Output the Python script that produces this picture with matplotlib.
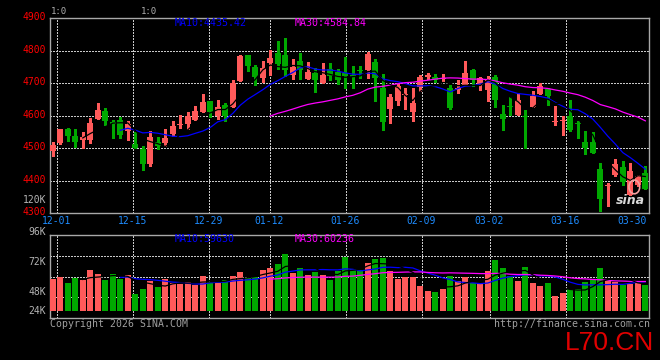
import numpy as np
import pandas as pd
import matplotlib
matplotlib.use('Agg')
import matplotlib.pyplot as plt
from matplotlib.patches import Rectangle, Ellipse
from matplotlib.transforms import blended_transform_factory

# ---------------- data ----------------
opens = [4492, 4516, 4558, 4539, 4526, 4525, 4589, 4613, 4580, 4588,
         4553, 4513, 4497, 4452, 4518, 4517, 4544, 4571, 4574, 4588,
         4612, 4645, 4600, 4633, 4628, 4707, 4786, 4749, 4715, 4761,
         4792, 4786, 4724, 4769, 4712, 4731, 4701, 4743, 4733, 4730,
         4726, 4740, 4740, 4765, 4684, 4620, 4644, 4662, 4611, 4688,
         4720, 4720, 4713, 4685, 4680, 4693, 4739, 4693, 4678, 4718,
         4604, 4628, 4601, 4600, 4627, 4667, 4682, 4580, 4585, 4600,
         4577, 4518, 4520, 4435, 4383, 4419, 4443, 4355, 4386, 4423]
highs = [4518, 4560, 4563, 4558, 4549, 4592, 4638, 4622, 4586, 4595,
         4584, 4550, 4508, 4553, 4534, 4558, 4585, 4602, 4612, 4629,
         4666, 4645, 4649, 4639, 4709, 4786, 4786, 4755, 4769, 4802,
         4830, 4838, 4773, 4792, 4766, 4746, 4762, 4761, 4743, 4780,
         4753, 4753, 4797, 4775, 4728, 4665, 4697, 4685, 4685, 4724,
         4732, 4727, 4727, 4693, 4708, 4767, 4742, 4719, 4721, 4724,
         4632, 4657, 4670, 4617, 4675, 4700, 4685, 4631, 4598, 4649,
         4583, 4554, 4551, 4455, 4394, 4467, 4462, 4455, 4418, 4445]
lows = [4477, 4513, 4523, 4505, 4500, 4516, 4589, 4571, 4531, 4532,
        4526, 4500, 4432, 4446, 4498, 4508, 4537, 4562, 4559, 4588,
        4612, 4595, 4590, 4584, 4626, 4707, 4736, 4695, 4702, 4724,
        4743, 4722, 4712, 4712, 4712, 4674, 4701, 4710, 4696, 4684,
        4684, 4715, 4715, 4645, 4557, 4577, 4632, 4620, 4584, 4676,
        4713, 4703, 4705, 4619, 4669, 4693, 4690, 4678, 4645, 4627,
        4555, 4601, 4601, 4500, 4627, 4667, 4632, 4570, 4540, 4552,
        4531, 4481, 4485, 4307, 4321, 4416, 4386, 4355, 4384, 4374]
closes = [4510, 4558, 4537, 4519, 4534, 4577, 4616, 4584, 4574, 4540,
          4574, 4500, 4452, 4535, 4508, 4531, 4568, 4575, 4600, 4614,
          4643, 4611, 4626, 4600, 4701, 4783, 4753, 4719, 4747, 4776,
          4759, 4741, 4748, 4741, 4735, 4710, 4725, 4722, 4710, 4722,
          4720, 4736, 4789, 4717, 4579, 4656, 4692, 4666, 4639, 4720,
          4724, 4711, 4716, 4624, 4685, 4731, 4708, 4715, 4708, 4647,
          4589, 4626, 4647, 4597, 4659, 4692, 4659, 4583, 4588, 4557,
          4573, 4502, 4485, 4343, 4387, 4450, 4396, 4429, 4416, 4374]
volumes = [60800, 62400, 57600, 61600, 59800, 68000, 64800, 60000, 64800, 60800,
           64000, 48900, 52900, 59000, 54500, 60800, 57600, 56600, 58400, 56000,
           63400, 58400, 57400, 60000, 63400, 66400, 61600, 62400, 68000, 69600,
           73000, 80700, 65800, 69600, 64000, 66400, 64000, 60000, 67400, 78300,
           68800, 68000, 73800, 76700, 77500, 67200, 60800, 62400, 62400, 55300,
           51300, 50500, 52900, 63200, 59000, 62400, 57600, 56800, 67200, 75900,
           69600, 63200, 59200, 70300, 57900, 55300, 57600, 47300, 49700, 52600,
           52600, 58400, 60600, 69600, 60000, 58400, 55800, 56800, 57600, 56000]

tick_idx = [1, 11, 21, 29, 39, 49, 58, 68, 78]
tick_labels = ['12-01', '12-15', '12-29', '01-12', '01-26', '02-09', '03-02', '03-16', '03-30']
price_ticks = [4900, 4800, 4700, 4600, 4500, 4400, 4300]
vol_ticks = [96000, 72000, 48000, 24000]
vol_tick_labels = ['96K', '72K', '48K', '24K']
price_ma10_text = 'MA10:4435.42'
price_ma30_text = 'MA30:4584.84'
vol_ma10_text = 'MA10:59630'
vol_ma30_text = 'MA30:60236'

# ---------------- style ----------------
W, H = 660, 360
BG = '#000000'
UP = '#FF5A5A'
DOWN = '#00A800'
GRID = '#C8C8C8'
BORDER = '#A8A8A8'
BLUE = '#0000FF'
MAG = '#FF00FF'
DATE_C = '#1E8CFF'
GREY = '#B4B4B4'
MONO = 'DejaVu Sans Mono'


def fx(x):
    return x / W


def fy(y):
    return 1 - y / H


fig = plt.figure(figsize=(6.6, 3.6), dpi=100, facecolor=BG)

n = len(closes)
x = np.arange(n)
X_LO, X_HI = -0.37, 79.53

ax = fig.add_axes([fx(50), fy(213.3), (649.3 - 50) / W, (213.3 - 18) / H])
axv = fig.add_axes([fx(50), fy(318.3), (649.3 - 50) / W, (318.3 - 234.7) / H])

for a in (ax, axv):
    a.set_facecolor(BG)
    a.set_xlim(X_LO, X_HI)
    a.set_xticks([])
    a.set_yticks([])
    for s in a.spines.values():
        s.set_color(BORDER)
        s.set_linewidth(1.0)

ax.set_ylim(4300, 4900)
V_LO, V_HI = 29600, 96000
axv.set_ylim(V_LO, V_HI)

# gridline positions (Sina places them on a slightly different step than candles)
grid_pos = [t * n / (n - 1) - 0.41 for t in tick_idx]
dotted = dict(color=GRID, linewidth=0.75, linestyle=(0, (1, 1.6)), antialiased=False, zorder=1)
for g in grid_pos[:-1]:
    ax.axvline(g, **dotted)
    axv.axvline(g, **dotted)
for p in price_ticks[1:-1]:
    ax.axhline(p, **dotted)
for f in (0.25, 0.5, 0.75):
    axv.axhline(V_LO + (V_HI - V_LO) * f, **dotted)

# ---------------- candles ----------------
bw = 0.8
for i in range(n):
    o, h, l, c = opens[i], highs[i], lows[i], closes[i]
    col = UP if c >= o else DOWN
    ax.vlines(i, l, h, color=col, linewidth=1.0, antialiased=False, zorder=2)
    lo = min(o, c)
    hgt = max(abs(c - o), 2.5)
    ax.add_patch(Rectangle((i - bw / 2, lo), bw, hgt, facecolor=col, edgecolor='none',
                           antialiased=False, zorder=3))

cl = pd.Series(closes, dtype=float)
ax.plot(x, cl.rolling(10).mean(), color=BLUE, linewidth=0.9, zorder=5)
ax.plot(x, cl.rolling(30).mean(), color=MAG, linewidth=0.9, zorder=5)
ax.plot(x, cl.rolling(5).mean(), color='#000000', linewidth=0.9, zorder=6)

# ---------------- volume ----------------
vb = 35600
for i in range(n):
    col = UP if closes[i] >= opens[i] else DOWN
    axv.add_patch(Rectangle((i - bw / 2, vb), bw, volumes[i] - vb, facecolor=col,
                            edgecolor='none', antialiased=False, zorder=3))
vs = pd.Series(volumes, dtype=float)
axv.plot(x, vs.rolling(10).mean(), color=BLUE, linewidth=0.9, zorder=5)
axv.plot(x, vs.rolling(30).mean(), color=MAG, linewidth=0.9, zorder=5)
axv.plot(x, vs.rolling(5).mean(), color='#000000', linewidth=0.9, zorder=6)

# ---------------- labels ----------------
tr = blended_transform_factory(ax.transAxes, ax.transData)
for p in price_ticks:
    ax.text(-4 / 599.3, p + 3, str(p), transform=tr, ha='right', va='center',
            color='#FF0000', fontsize=7, family=MONO, clip_on=False)

trv = blended_transform_factory(axv.transAxes, axv.transData)
for v, lab in zip(vol_ticks, vol_tick_labels):
    yv = max(v, V_LO + 0.05 * (V_HI - V_LO))
    axv.text(-4 / 599.3, yv, lab, transform=trv, ha='right', va='baseline',
             color=GREY, fontsize=7, family=MONO, clip_on=False)

fig.text(fx(46), fy(200), '120K', ha='right', va='center', color=GREY, fontsize=7, family=MONO)

trx = blended_transform_factory(ax.transData, fig.transFigure)
for g, lab in zip(grid_pos, tick_labels):
    if g > X_HI - 2:
        ax.text(X_HI - 0.4, fy(221), lab, transform=trx, ha='right', va='center',
                color=DATE_C, fontsize=7, family=MONO, clip_on=False)
    else:
        ax.text(g - 0.15, fy(221), lab, transform=trx, ha='center', va='center',
                color=DATE_C, fontsize=7, family=MONO, clip_on=False)

fig.text(fx(175), fy(23.5), price_ma10_text, ha='left', va='center', color=BLUE, fontsize=7.2, family=MONO)
fig.text(fx(295), fy(23.5), price_ma30_text, ha='left', va='center', color=MAG, fontsize=7.2, family=MONO)
fig.text(fx(175), fy(238.5), vol_ma10_text, ha='left', va='center', color=BLUE, fontsize=7.2, family=MONO)
fig.text(fx(295), fy(238.5), vol_ma30_text, ha='left', va='center', color=MAG, fontsize=7.2, family=MONO)

fig.text(fx(50), fy(324), 'Copyright 2026 SINA.COM', ha='left', va='center', color='#A0A0A0',
         fontsize=7.1, family=MONO)
fig.text(fx(650), fy(324), 'http://finance.sina.com.cn', ha='right', va='center', color='#A0A0A0',
         fontsize=7.1, family=MONO)
fig.text(fx(565), fy(350), 'L70.CN', ha='left', va='baseline', color='#E00000',
         fontsize=19, family='Liberation Sans')

# header glyphs (top-left)
fig.text(fx(51), fy(12), '1:0', ha='left', va='center', color='#B0B0B0', fontsize=6.5, family=MONO)
fig.text(fx(141), fy(12), '1:0', ha='left', va='center', color='#B0B0B0', fontsize=6.5, family=MONO)

# sina watermark
ax.add_patch(Ellipse((0.975, 0.135), 0.018, 0.07, transform=ax.transAxes, facecolor='none',
                     edgecolor='#F4A0A0', linewidth=1.2, zorder=7))
ax.text(0.993, 0.03, 'sina', transform=ax.transAxes, ha='right', va='bottom', color='#D8D8D8',
        fontsize=9, fontstyle='italic', fontweight='bold', family='DejaVu Sans', zorder=7)

fig.savefig('out.png', dpi=100, facecolor=BG)
